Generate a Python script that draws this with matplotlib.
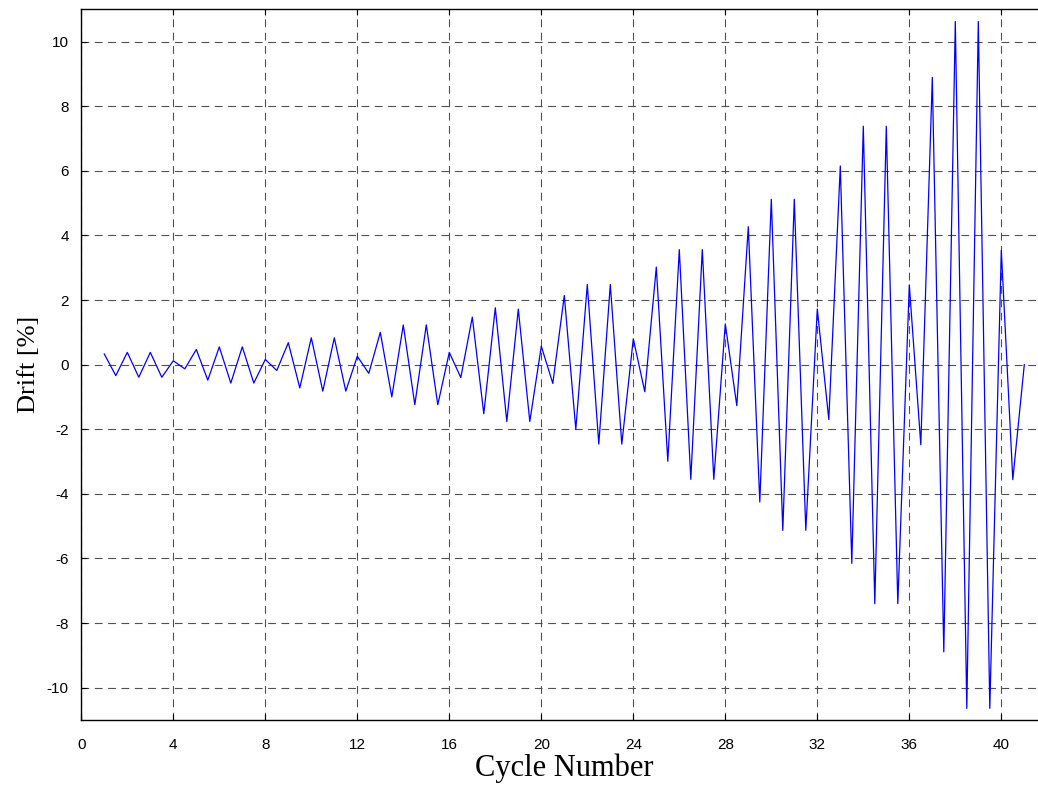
import numpy as np
import matplotlib
matplotlib.use("Agg")
from matplotlib import pyplot as plt

# half-cycle sample points (cycle number) and drift peaks [%]
cycle = [1, 1.5, 2, 2.5, 3, 3.5, 4, 4.5, 5, 5.5, 6, 6.5, 7, 7.5, 8, 8.5,
         9, 9.5, 10, 10.5, 11, 11.5, 12, 12.5, 13, 13.5, 14, 14.5, 15, 15.5, 16, 16.5,
         17, 17.5, 18, 18.5, 19, 19.5, 20, 20.5, 21, 21.5, 22, 22.5, 23, 23.5, 24, 24.5,
         25, 25.5, 26, 26.5, 27, 27.5, 28, 28.5, 29, 29.5, 30, 30.5, 31, 31.5, 32, 32.5,
         33, 33.5, 34, 34.5, 35, 35.5, 36, 36.5, 37, 37.5, 38, 38.5, 39, 39.5, 40, 40.5, 41]
drift = [0.33, -0.34, 0.38, -0.39, 0.38, -0.39, 0.12, -0.13, 0.47, -0.48, 0.55, -0.57, 0.55, -0.57, 0.16, -0.18,
         0.68, -0.72, 0.83, -0.82, 0.83, -0.82, 0.26, -0.27, 1.0, -1.0, 1.23, -1.24, 1.23, -1.24, 0.38, -0.4,
         1.47, -1.52, 1.76, -1.76, 1.72, -1.76, 0.57, -0.58, 2.14, -2.0, 2.48, -2.46, 2.48, -2.46, 0.8, -0.84,
         3.02, -2.99, 3.56, -3.55, 3.56, -3.55, 1.26, -1.27, 4.27, -4.25, 5.12, -5.13, 5.12, -5.13, 1.72, -1.7,
         6.15, -6.15, 7.38, -7.4, 7.38, -7.4, 2.47, -2.48, 8.89, -8.89, 10.62, -10.64, 10.62, -10.64, 3.54, -3.56, 0.0]

xticks = np.arange(0, 41, 4)
yticks = np.arange(-10, 11, 2)

plt.rcParams["axes.unicode_minus"] = False

fig = plt.figure(figsize=(10.38, 7.87), dpi=100)
# right edge of the axes runs past the image border, as in the reference
ax = fig.add_axes([81.3 / 1038, 1 - 720 / 787, 42 * 23 / 1038, (720 - 9.3) / 787])

ax.plot(cycle, drift, color="#0000ff", linewidth=0.9)

ax.set_xlim(0, 42)
ax.set_ylim(-11, 11)
ax.set_xticks(xticks)
ax.set_yticks(yticks)
ax.tick_params(direction="in", length=4, width=0.8, top=True, right=False,
               labelsize=11)
ax.tick_params(axis="x", pad=13)
ax.tick_params(axis="y", pad=9)
for lab in ax.get_xticklabels() + ax.get_yticklabels():
    lab.set_family("Liberation Sans")

ax.grid(True, color="#505050", linestyle=(0, (7, 5)), linewidth=0.8)
ax.set_axisbelow(True)
for sp in ax.spines.values():
    sp.set_linewidth(1.0)
ax.spines["right"].set_visible(False)

ax.set_xlabel("Cycle Number", family="Liberation Serif", fontsize=22, labelpad=1)
ax.set_ylabel("Drift [%]", family="Liberation Serif", fontsize=19, labelpad=5)

plt.savefig("out.png", dpi=100)
